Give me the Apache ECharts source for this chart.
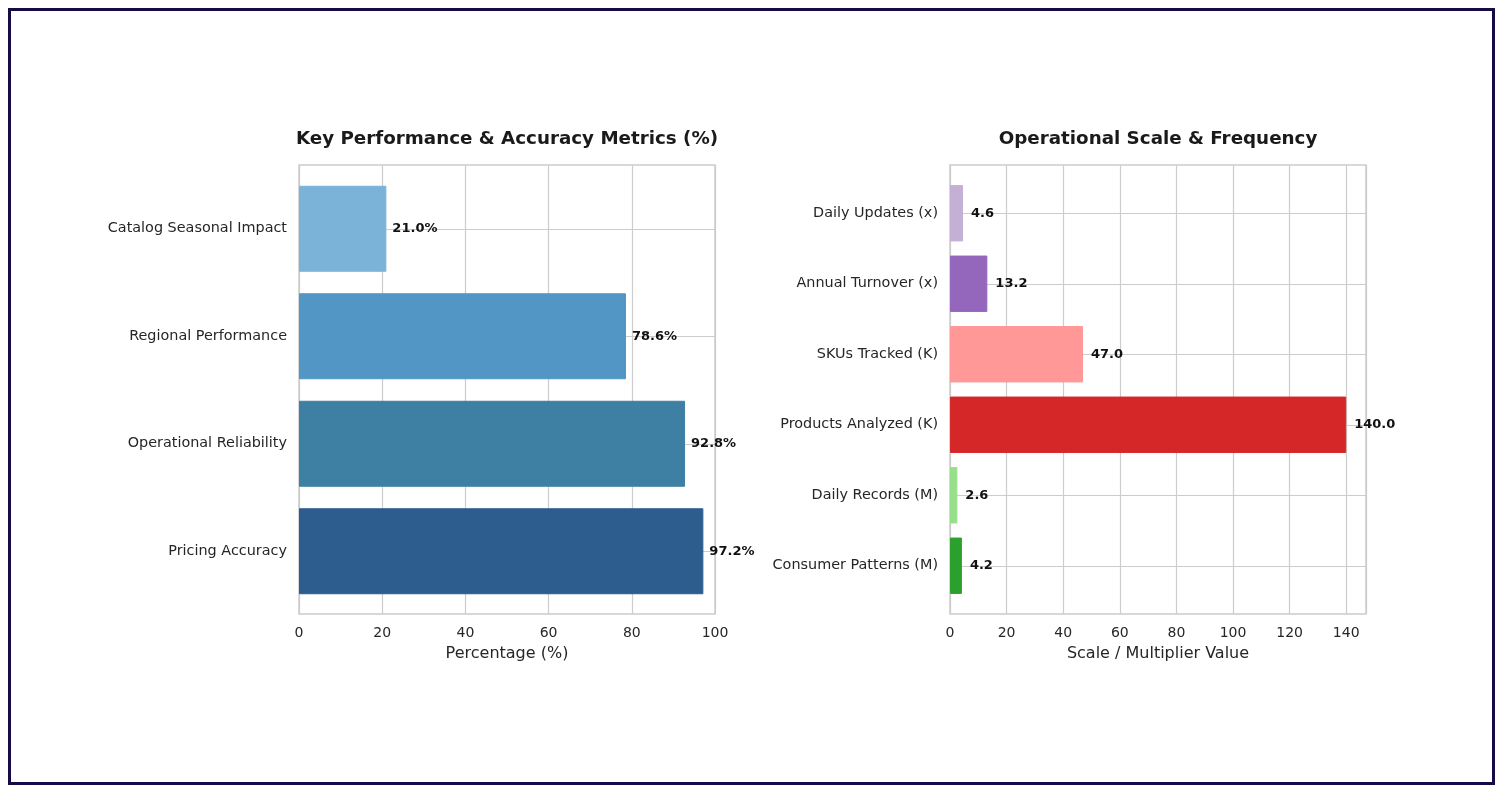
<!DOCTYPE html>
<html>
<head>
<meta charset="utf-8">
<script src="https://cdn.jsdelivr.net/npm/echarts@6/dist/echarts.min.js"></script>
<style>
html,body{margin:0;padding:0;background:#fff;}
#wrap{position:absolute;left:8px;top:8px;width:1481px;height:771px;border:3px solid #170a45;}
#chart{position:absolute;left:0;top:0;width:1503px;height:793px;}
</style>
</head>
<body>
<div id="chart"></div>
<div id="wrap"></div>
<script>
// Left chart data
const leftTitle = 'Key Performance & Accuracy Metrics (%)';
const leftCategories = ['Catalog Seasonal Impact', 'Regional Performance', 'Operational Reliability', 'Pricing Accuracy'];
const leftValues = [21.0, 78.6, 92.8, 97.2];
const leftColors = ['#7bb2d8', '#5296c6', '#3e80a3', '#2d5c8e'];
const leftTicks = [0, 20, 40, 60, 80, 100];

// Right chart data
const rightTitle = 'Operational Scale & Frequency';
const rightCategories = ['Daily Updates (x)', 'Annual Turnover (x)', 'SKUs Tracked (K)', 'Products Analyzed (K)', 'Daily Records (M)', 'Consumer Patterns (M)'];
const rightValues = [4.6, 13.2, 47.0, 140.0, 2.6, 4.2];
const rightColors = ['#c5b0d5', '#9467bd', '#ff9896', '#d62728', '#98df8a', '#2ca02c'];
const rightTicks = [0, 20, 40, 60, 80, 100, 120, 140];

const FONT = 'DejaVu Sans';
const GRID_C = '#cccccc';
const TXT = '#262626';

const chart = echarts.init(document.getElementById('chart'));

function frameX(gridIndex, max, ticks, name) {
  return {
    type: 'value', gridIndex: gridIndex, min: 0, max: max, interval: 20,
    axisLine: {show: false}, axisTick: {show: false},
    splitLine: {show: true, lineStyle: {color: GRID_C, width: 1.2}},
    axisLabel: {color: TXT, fontFamily: FONT, fontSize: 14, margin: 12,
      formatter: function (v) { return ticks.indexOf(v) >= 0 ? String(v) : ''; }},
    name: name, nameLocation: 'middle', nameGap: 32,
    nameTextStyle: {color: TXT, fontFamily: FONT, fontSize: 16}
  };
}
function hiddenX(gridIndex, max) {
  return {type: 'value', gridIndex: gridIndex, min: 0, max: max, show: false, splitLine: {show: false}};
}
function frameY(gridIndex) {
  return {type: 'value', gridIndex: gridIndex, min: 0, max: 1, show: false, splitLine: {show: false}};
}
function catY(gridIndex, cats, width) {
  return {
    type: 'category', gridIndex: gridIndex, data: cats, inverse: true,
    axisLine: {show: false},
    axisTick: {show: true, inside: true, length: width, alignWithLabel: true, lineStyle: {color: GRID_C, width: 1.2}},
    splitLine: {show: false},
    axisLabel: {color: TXT, fontFamily: FONT, fontSize: 14.4, margin: 12}
  };
}

const option = {
  backgroundColor: '#ffffff',
  animation: false,
  graphic: [
    {type: 'text', x: 507, y: 139, style: {text: leftTitle, textAlign: 'center', textVerticalAlign: 'middle',
      fontFamily: FONT, fontWeight: 'bold', fontSize: 18.3, fill: '#1a1a1a'}},
    {type: 'text', x: 1158, y: 139, style: {text: rightTitle, textAlign: 'center', textVerticalAlign: 'middle',
      fontFamily: FONT, fontWeight: 'bold', fontSize: 18.3, fill: '#1a1a1a'}}
  ],
  grid: [
    {left: 299, top: 165, width: 416, height: 449, show: true, borderColor: GRID_C, borderWidth: 1.5, backgroundColor: 'transparent', z: 0},
    {left: 299, top: 175, width: 416, height: 430},
    {left: 950, top: 165, width: 416, height: 449, show: true, borderColor: GRID_C, borderWidth: 1.5, backgroundColor: 'transparent', z: 0},
    {left: 950, top: 178, width: 416, height: 423}
  ],
  xAxis: [
    frameX(0, 100, leftTicks, 'Percentage (%)'),
    hiddenX(1, 100),
    frameX(2, 147, rightTicks, 'Scale / Multiplier Value'),
    hiddenX(3, 147)
  ],
  yAxis: [
    frameY(0),
    catY(1, leftCategories, 416),
    frameY(2),
    catY(3, rightCategories, 416)
  ],
  series: [
    {
      type: 'bar', xAxisIndex: 1, yAxisIndex: 1, barCategoryGap: '20%',
      data: leftValues.map(function (v, i) {
        return {value: v, itemStyle: {color: leftColors[i], borderColor: leftColors[i], borderWidth: 1}};
      }),
      label: {show: true, position: 'right', distance: 6, color: '#111', fontFamily: FONT, fontWeight: 'bold', fontSize: 13,
        formatter: function (p) { return p.value.toFixed(1) + '%'; }},
      z: 3
    },
    {
      type: 'bar', xAxisIndex: 3, yAxisIndex: 3, barCategoryGap: '20%',
      data: rightValues.map(function (v, i) {
        return {value: v, itemStyle: {color: rightColors[i], borderColor: rightColors[i], borderWidth: 1}};
      }),
      label: {show: true, position: 'right', distance: 8, color: '#111', fontFamily: FONT, fontWeight: 'bold', fontSize: 13,
        formatter: function (p) { return p.value.toFixed(1); }},
      z: 3
    }
  ]
};
chart.setOption(option);
</script>
</body>
</html>
